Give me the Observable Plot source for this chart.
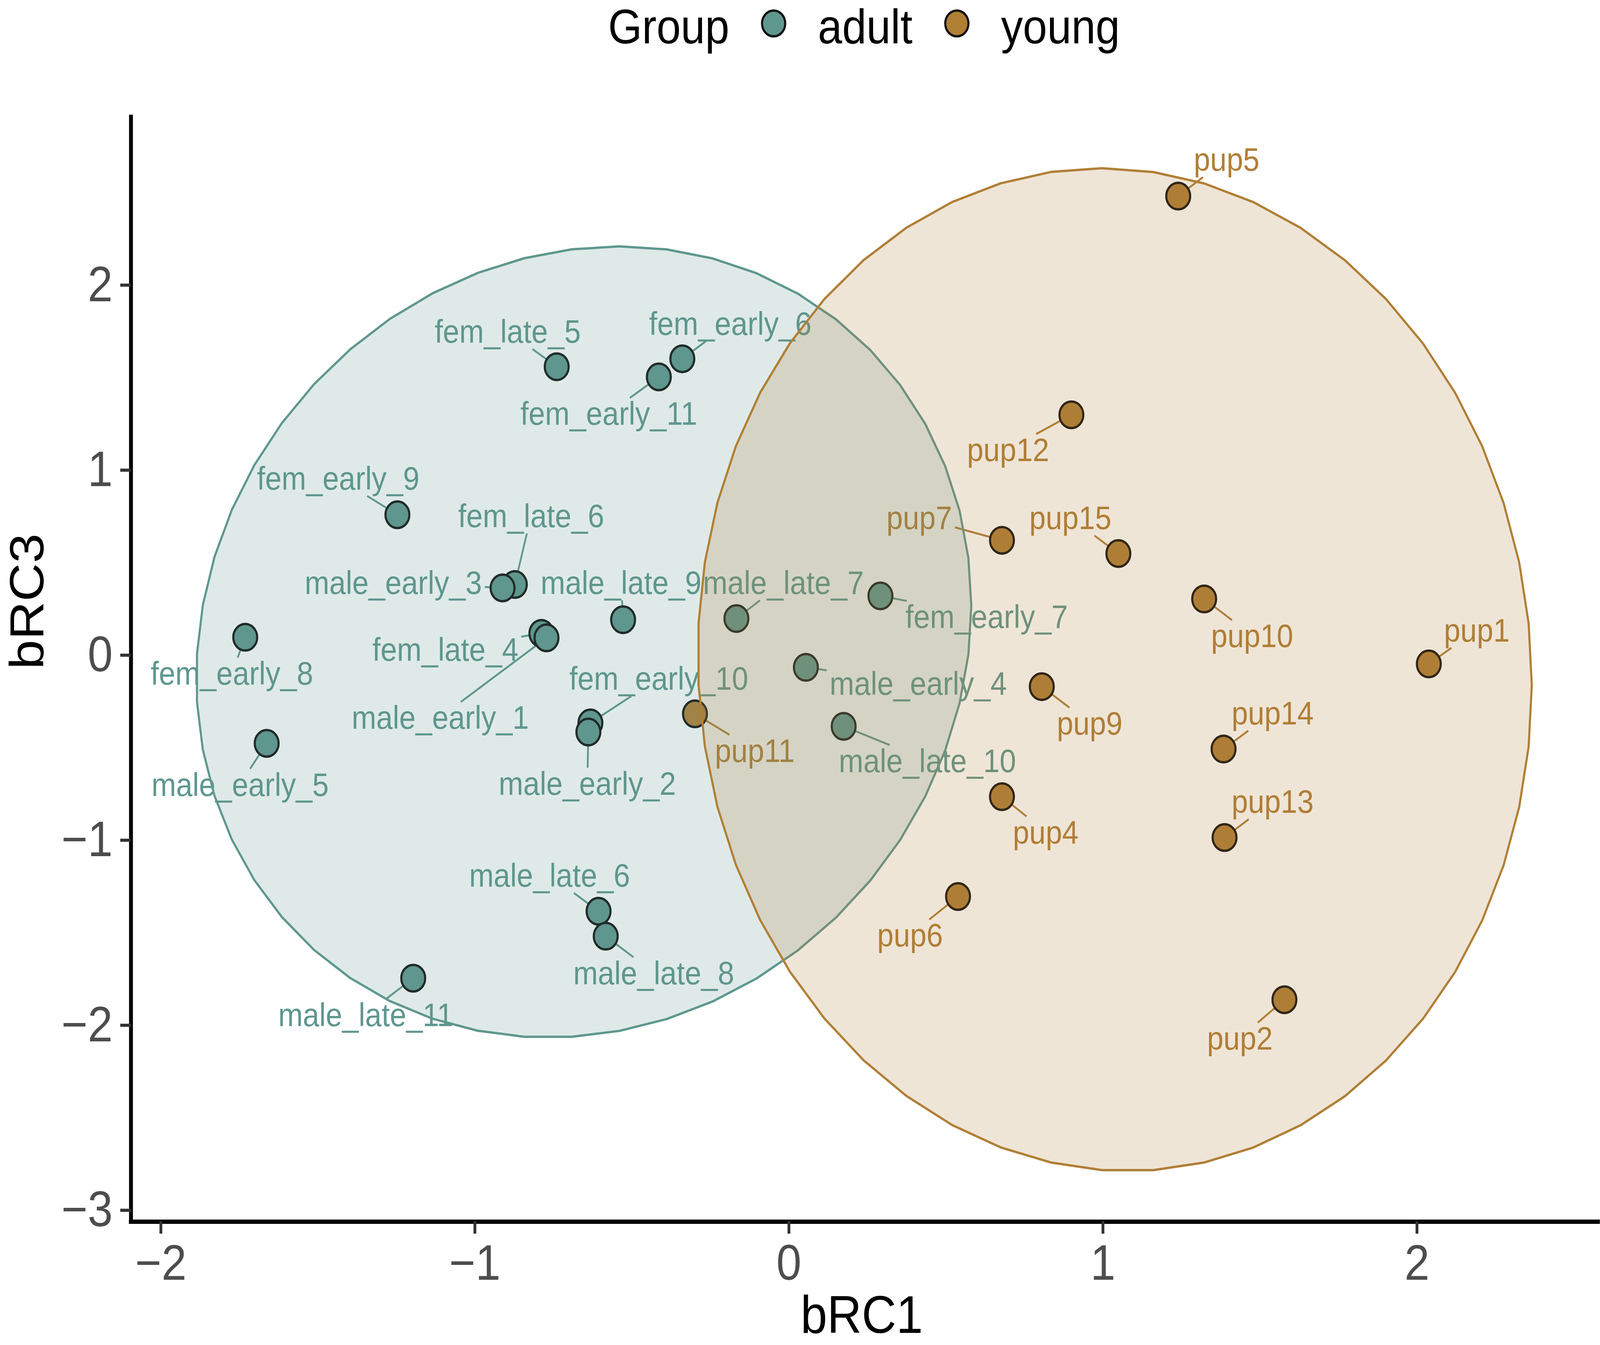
<!DOCTYPE html>
<html>
<head>
<meta charset="utf-8">
<script src="https://cdn.jsdelivr.net/npm/d3@7"></script>
<script src="https://cdn.jsdelivr.net/npm/@observablehq/plot@0.6"></script>
<style>
  html, body { margin: 0; padding: 0; background: #fff; overflow: hidden; }
  body { font-family: "Liberation Sans", Arial, sans-serif; }
  #page { position: absolute; left: 0; top: 0; width: 4550px; height: 3442px; transform-origin: 0 0; background: #fff; }
  #chart { position: absolute; left: 0; top: 110px; z-index: 1; }
  #chart svg { display: block; max-width: none; }
  #legend { position: absolute; left: 0; top: 0; z-index: 2; width: 4550px; height: 150px; box-sizing: border-box; padding-left: 364px; display: flex; justify-content: center; align-items: flex-start; font-size: 124px; line-height: 124px; color: #000; white-space: nowrap; }
  #legend span.t { display: inline-block; padding-top: 6px; }
  #legend .sw { display: inline-block; width: 72px; height: 72px; border-radius: 50%; border: 6px solid #111; box-sizing: border-box; margin: 0 90px; margin-top: 24px; }
</style>
</head>
<body>
<div id="page">
<div id="chart"></div>
<div id="legend"></div>
</div>
<script>
// ---------- data ----------
const groups = ["adult", "young"];
const groupColors = ["#5f978e", "#b07f36"];

const adultNames = ["fem_late_5","fem_early_6","fem_early_11","fem_early_9","fem_late_6","male_early_3","male_late_9","male_late_7","fem_early_7","fem_early_8","fem_late_4","male_early_1","male_early_4","fem_early_10","male_early_2","male_late_10","male_early_5","male_late_6","male_late_8","male_late_11"];
const adultX = [-0.7395,-0.3395,-0.4143,-1.2468,-0.8729,-0.9119,-0.5281,-0.1672,0.2914,-1.7314,-0.7883,-0.7720,0.0540,-0.6322,-0.6387,0.1743,-1.6631,-0.6062,-0.5834,-1.1964];
const adultY = [1.5592,1.6021,1.5040,0.7590,0.3820,0.3636,0.1919,0.1981,0.3207,0.0969,0.1183,0.0938,-0.0656,-0.3660,-0.4151,-0.3844,-0.4764,-1.3838,-1.5187,-1.7455];
const adultLabelX = [-0.8956,-0.1867,-0.5737,-1.4354,-0.8208,-1.2598,-0.5346,-0.0176,0.6296,-1.7737,-1.0940,-1.1102,0.4117,-0.4143,-0.6420,0.4410,-1.7477,-0.7623,-0.4306,-1.3476];
const adultLabelY = [1.7523,1.7952,1.3078,0.9583,0.7560,0.3942,0.3942,0.3942,0.2103,-0.0962,0.0325,-0.3354,-0.1514,-0.1238,-0.6910,-0.5684,-0.6971,-1.1876,-1.7149,-1.9417];

const youngNames = ["pup5","pup12","pup7","pup15","pup10","pup1","pup9","pup11","pup14","pup4","pup13","pup6","pup2"];
const youngX = [1.2397,0.8995,0.6784,1.0491,1.3223,2.0377,0.8052,-0.2992,1.3841,0.6784,1.3873,0.5385,1.5779];
const youngY = [2.4813,1.2992,0.6211,0.5494,0.3041,-0.0472,-0.1698,-0.3170,-0.5070,-0.7646,-0.9853,-1.3041,-1.8620];
const youngLabelX = [1.3938,0.6979,0.4150,0.8963,1.4751,2.1906,0.9577,-0.1086,1.5402,0.8176,1.5402,0.3857,1.4361];
const youngLabelY = [2.6812,1.1122,0.7444,0.7444,0.1067,0.1374,-0.3661,-0.5132,-0.3108,-0.9546,-0.7891,-1.5117,-2.0687];

// 95% ellipse parameters per group (centre, half-extents, correlation)
const ellipseCX = [-0.6533, 1.0377];
const ellipseCY = [0.0717, -0.0779];
const ellipseSX = [1.2341, 1.3280];
const ellipseSY = [2.1380, 2.7100];
const ellipseRho = [0.0912, -0.0311];

const xTicks = [-2, -1, 0, 1, 2];
const yTicks = [-3, -2, -1, 0, 1, 2];
const xDomain = [-2.0952, 2.5767];
const yDomain = [-3.0617, 2.9086];
const xTitle = "bRC1";
const yTitle = "bRC3";
const legendTitle = "Group";

// ---------- fit the 4550x3442 page to the actual window ----------
const PAGE_W = 4550, PAGE_H = 3442;
const kx = window.innerWidth / PAGE_W, ky = window.innerHeight / PAGE_H;
document.getElementById("page").style.transform = `scale(${kx}, ${ky})`;

// ---------- build tables ----------
const rows = [];
adultNames.forEach((n, i) => rows.push({name: n, group: "adult", x: adultX[i], y: adultY[i], lx: adultLabelX[i], ly: adultLabelY[i]}));
youngNames.forEach((n, i) => rows.push({name: n, group: "young", x: youngX[i], y: youngY[i], lx: youngLabelX[i], ly: youngLabelY[i]}));

function ellipsePoints(i) {
  const pts = [], n = 51, r = ellipseRho[i];
  for (let k = 0; k <= n; k++) {
    const t = 2 * Math.PI * k / n, c = Math.cos(t), s = Math.sin(t);
    pts.push({x: ellipseCX[i] + ellipseSX[i] * c,
              y: ellipseCY[i] + ellipseSY[i] * (r * c + Math.sqrt(1 - r * r) * s)});
  }
  return pts;
}

const W = 4550, H = 3332;
const base = {
  width: W, height: H,
  marginTop: 189, marginRight: 6, marginBottom: 316, marginLeft: 372,
  x: {domain: xDomain},
  y: {domain: yDomain},
  color: {domain: groups, range: groupColors},
  style: {fontFamily: "'Liberation Sans', Arial, sans-serif", background: "white", overflow: "visible", maxWidth: "none"}
};

// scales for label leader segments
const tmp = Plot.plot({...base, marks: [Plot.dot(rows, {x: "x", y: "y"})]});
const sx = tmp.scale("x"), sy = tmp.scale("y");
const LABEL_FS = 84;
const ctx = document.createElement("canvas").getContext("2d");
ctx.font = `${LABEL_FS}px 'Liberation Sans'`;
const segs = [];
for (const d of rows) {
  const px = sx.apply(d.x), py = sy.apply(d.y);
  const lx = sx.apply(d.lx), ly = sy.apply(d.ly);
  const w = ctx.measureText(d.name).width;
  const left = w / 2 + 8, right = w / 2 + 8, top = 0.42 * LABEL_FS + 4, bottom = 0.55 * LABEL_FS;
  const dx = px - lx, dy = py - ly;
  const inside = (dx >= -left && dx <= right && dy >= -top && dy <= bottom);
  if (inside) continue;
  const s1 = dx === 0 ? Infinity : (dx > 0 ? right : left) / Math.abs(dx);
  const s2 = dy === 0 ? Infinity : (dy > 0 ? bottom : top) / Math.abs(dy);
  const s = Math.min(s1, s2);
  const ex = lx + s * dx, ey = ly + s * dy;
  segs.push({group: d.group, x1: d.x, y1: d.y, x2: sx.invert(ex), y2: sy.invert(ey)});
}

const fmt = d3.format("d");
const chart = Plot.plot({
  ...base,
  marks: [
    Plot.link(segs, {x1: "x1", y1: "y1", x2: "x2", y2: "y2", stroke: "group", strokeWidth: 5}),
    Plot.dot(rows, {x: "x", y: "y", fill: "group", r: 34, stroke: "#111", strokeWidth: 6}),
    Plot.text(rows, {x: "lx", y: "ly", text: "name", fill: "group", fontSize: LABEL_FS, lineAnchor: "middle", dy: 3}),
    ...groups.map((g, i) => Plot.line(ellipsePoints(i), {x: "x", y: "y", stroke: groupColors[i], strokeWidth: 6, fill: groupColors[i], fillOpacity: 0.2, curve: "linear"})),
    Plot.ruleX([xDomain[0]], {y1: yDomain[0], y2: yDomain[1], stroke: "black", strokeWidth: 11, strokeLinecap: "square"}),
    Plot.ruleY([yDomain[0]], {x1: xDomain[0], x2: xDomain[1], stroke: "black", strokeWidth: 11, strokeLinecap: "square"}),
    Plot.axisX({ticks: xTicks, tickFormat: fmt, tickSize: 31, tickPadding: 27, fontSize: 128, stroke: "#333", strokeWidth: 8, fill: "#4d4d4d", label: null}),
    Plot.axisY({ticks: yTicks, tickFormat: fmt, tickSize: 30, tickPadding: 22, fontSize: 128, stroke: "#333", strokeWidth: 8, fill: "#4d4d4d", label: null}),
    Plot.text([xTitle], {text: d => d, frameAnchor: "bottom", dy: 284, dx: -8, lineAnchor: "bottom", fontSize: 136, fill: "black"}),
    Plot.text([yTitle], {text: d => d, frameAnchor: "left", rotate: -90, dx: -249, lineAnchor: "bottom", fontSize: 136, fill: "black"})
  ]
});
document.getElementById("chart").appendChild(chart);

// legend
const legend = document.getElementById("legend");
const title = document.createElement("span");
title.className = "t";
title.textContent = legendTitle;
legend.appendChild(title);
groups.forEach((g, i) => {
  const sw = document.createElement("span");
  sw.className = "sw";
  sw.style.background = groupColors[i];
  legend.appendChild(sw);
  const t = document.createElement("span");
  t.className = "t";
  t.textContent = g;
  legend.appendChild(t);
});
</script>
</body>
</html>
